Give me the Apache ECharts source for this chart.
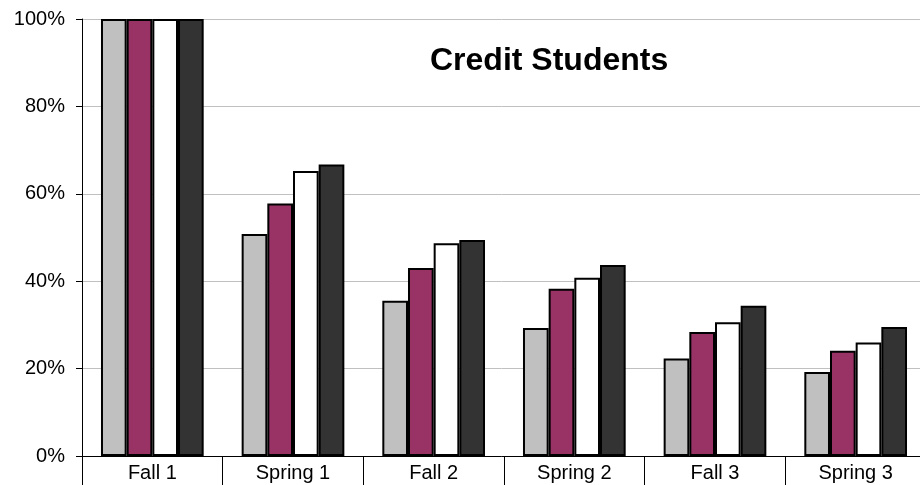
<!DOCTYPE html>
<html>
<head>
<meta charset="utf-8">
<script src="https://cdn.jsdelivr.net/npm/echarts@6/dist/echarts.min.js"></script>
<style>
html,body{margin:0;padding:0;background:#fff;}
#chart{width:920px;height:485px;}
</style>
</head>
<body>
<div id="chart"></div>
<script>
var categories = ['Fall 1', 'Spring 1', 'Fall 2', 'Spring 2', 'Fall 3', 'Spring 3'];
var seriesA = [100, 50.8, 35.5, 29.3, 22.3, 19.2];
var seriesB = [100, 57.8, 43.0, 38.3, 28.4, 24.1];
var seriesC = [100, 65.2, 48.7, 40.8, 30.6, 26.0];
var seriesD = [100, 66.7, 49.4, 43.7, 34.4, 29.5];
var yTicks = [0, 20, 40, 60, 80, 100];
var titleText = 'Credit Students';

var FONT = '"Liberation Sans", Arial, sans-serif';
var colors = ['#c0c0c0', '#993366', '#ffffff', '#333333'];
var data = [seriesA, seriesB, seriesC, seriesD];
var names = ['Series 1', 'Series 2', 'Series 3', 'Series 4'];

var chart = echarts.init(document.getElementById('chart'), null, {renderer: 'canvas'});
chart.setOption({
  animation: false,
  backgroundColor: '#ffffff',
  title: {
    text: titleText,
    left: 430,
    top: 45,
    padding: 0,
    textStyle: {fontFamily: FONT, fontSize: 32, fontWeight: 'bold', color: '#000'}
  },
  grid: {left: 82, top: 19, width: 844, height: 437, containLabel: false, outerBoundsMode: 'none'},
  xAxis: {
    type: 'category',
    data: categories,
    axisLine: {lineStyle: {color: '#000', width: 1}},
    axisTick: {show: true, length: 30, alignWithLabel: false, lineStyle: {color: '#000'}},
    axisLabel: {fontFamily: FONT, fontSize: 20, color: '#000', margin: 7, interval: 0},
    splitLine: {show: false}
  },
  yAxis: {
    type: 'value',
    min: yTicks[0],
    max: yTicks[yTicks.length - 1],
    interval: 20,
    axisLine: {show: true, lineStyle: {color: '#000', width: 1}},
    axisTick: {show: true, length: 6, lineStyle: {color: '#000'}},
    axisLabel: {fontFamily: FONT, fontSize: 20, color: '#000', margin: 17, formatter: '{value}%'},
    splitLine: {show: true, lineStyle: {color: '#c0c0c0', width: 1}}
  },
  series: data.map(function (d, i) {
    return {
      name: names[i],
      type: 'bar',
      data: d,
      barGap: '0%',
      barCategoryGap: '27%',
      itemStyle: {color: colors[i], borderColor: '#000', borderWidth: 2}
    };
  })
});
</script>
</body>
</html>
